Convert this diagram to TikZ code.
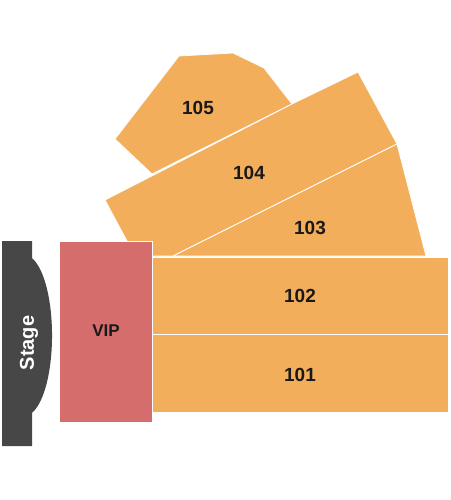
\documentclass[tikz,border=0pt]{standalone}
\usepackage{fontspec}
\setmainfont{Liberation Sans}
\usepackage{tikz}

\definecolor{seatorange}{HTML}{F3AE5B}
\definecolor{viprose}{HTML}{D66D6D}
\definecolor{stagegray}{HTML}{474747}

\begin{document}
\begin{tikzpicture}[x=1pt, y=-1pt,
		seat/.style={fill=seatorange, draw=white, line width=0.8pt, line join=round},
		num/.style={font=\fontsize{19}{19}\selectfont\bfseries, text=black!90}]
		\useasboundingbox (0, 0) rectangle (450, 500);
		
		% upper sections
		\filldraw[seat] (179, 56) -- (233, 53) -- (264, 68) -- (292, 104) -- (152, 174) -- (115, 139) -- cycle;
		\filldraw[seat] (105, 200) -- (292, 104) -- (358, 72) -- (397, 144) -- (173, 256) -- (135, 256) -- cycle;
		\filldraw[seat] (397, 144) -- (426, 256) -- (173, 256) -- cycle;
		
		% floor sections
		\filldraw[seat] (152, 257) rectangle (448, 334);
		\filldraw[seat] (152, 334) rectangle (448, 412);
		
		% VIP and stage
		\filldraw[fill=viprose, draw=white, line width=0.8pt] (59, 241) rectangle (152, 422);
		\fill[stagegray] (2, 241) -- (32, 241) -- (32, 258) .. controls (58.7, 282) and (58.7, 389) .. (32, 413) -- (32, 446) -- (2, 446) -- cycle;
		
		\node[num] (s105) at (198, 108) {105};
		\node[num] (s104) at (249, 173) {104};
		\node[num] (s103) at (310, 228) {103};
		\node[num] (s102) at (300, 296) {102};
		\node[num] (s101) at (300, 375) {101};
		\node[num, font=\fontsize{17}{17}\selectfont\bfseries] (vip) at (106, 331) {VIP};
		\node[num, text=white, font=\fontsize{20}{20}\selectfont\bfseries, rotate=90] (stage) at (29, 343) {Stage};
	\end{tikzpicture}
\end{document}
